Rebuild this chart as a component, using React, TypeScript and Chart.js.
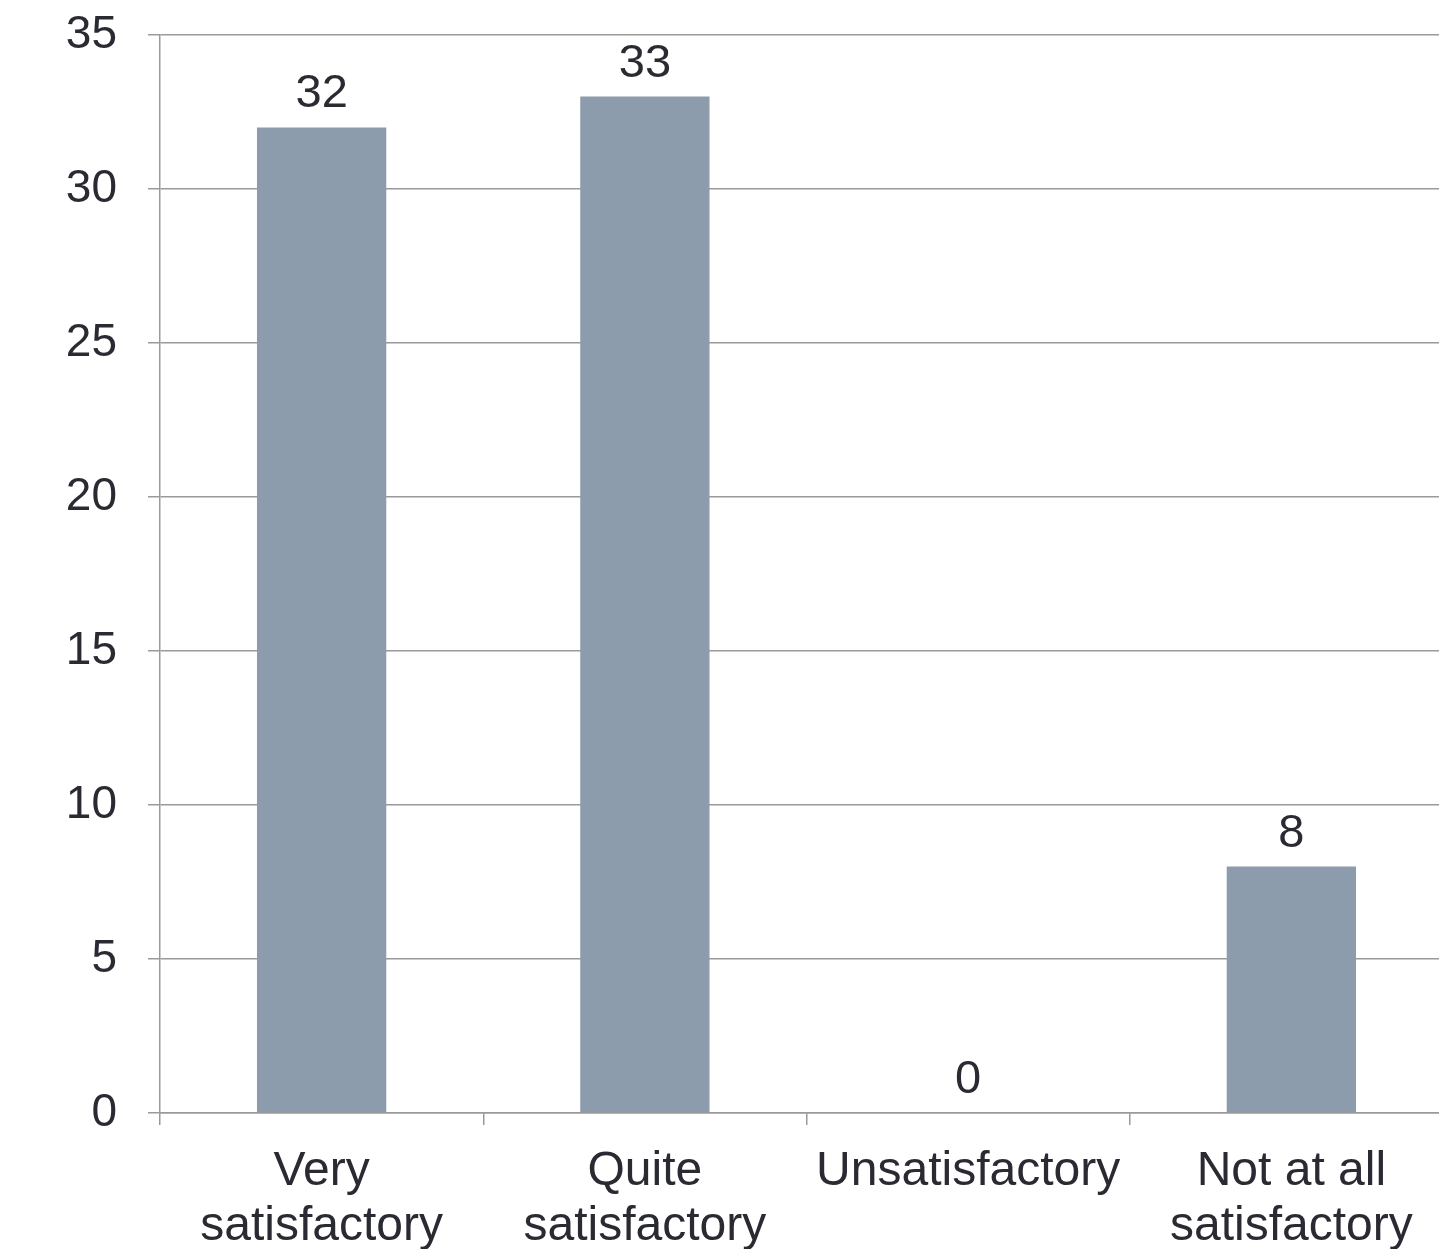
import React, { useEffect, useRef } from "react";
import { Chart, registerables } from "chart.js";

Chart.register(...registerables);

const categories: string[][] = [
  ["Very", "satisfactory"],
  ["Quite", "satisfactory"],
  ["Unsatisfactory"],
  ["Not at all", "satisfactory"],
];
const values: number[] = [32, 33, 0, 8];
const yTicks: number[] = [0, 5, 10, 15, 20, 25, 30, 35];

const FONT = "'Liberation Sans', Arial, sans-serif";
const TEXT = "#2a2a33";
const GRID = "#9a9a9a";
const BAR = "#8d9cac";

const valueLabels = {
  id: "valueLabels",
  afterDatasetsDraw(chart: any) {
    const ctx = chart.ctx;
    const meta = chart.getDatasetMeta(0);
    ctx.save();
    ctx.font = `47px ${FONT}`;
    ctx.fillStyle = TEXT;
    ctx.textAlign = "center";
    ctx.textBaseline = "alphabetic";
    meta.data.forEach((el: any, i: number) => {
      ctx.fillText(String(values[i]), el.x, el.y - 20);
    });
    ctx.restore();
  },
};

export default function App() {
  const ref = useRef<HTMLCanvasElement>(null);
  useEffect(() => {
    document.body.style.margin = "0";
    const chart = new Chart(ref.current!, {
      type: "bar",
      data: {
        labels: categories,
        datasets: [
          {
            data: values,
            backgroundColor: BAR,
            barPercentage: 0.4,
            categoryPercentage: 1,
          },
        ],
      },
      options: {
        responsive: false,
        animation: false,
        devicePixelRatio: 1,
        layout: { padding: { top: 35, right: 7, left: 0, bottom: 0 } },
        plugins: { legend: { display: false }, tooltip: { enabled: false } },
        scales: {
          x: {
            grid: {
              display: true,
              drawOnChartArea: false,
              drawTicks: true,
              tickLength: 12,
              offset: true,
              color: GRID,
              lineWidth: 1.5,
            },
            border: { display: true, color: GRID, width: 1.5 },
            ticks: {
              color: TEXT,
              font: { family: FONT, size: 48, lineHeight: 1.15 },
              padding: 19,
              maxRotation: 0,
              autoSkip: false,
            },
            afterFit(scale: any) {
              scale.height = 136;
              scale.paddingLeft = 0;
              scale.paddingRight = 0;
            },
          },
          y: {
            min: 0,
            max: 35,
            afterBuildTicks(scale: any) {
              scale.ticks = yTicks.map((v) => ({ value: v }));
            },
            grid: {
              color: GRID,
              lineWidth: 1.5,
              tickLength: 12,
              drawTicks: true,
            },
            border: { display: true, color: GRID, width: 1.5 },
            ticks: {
              color: TEXT,
              font: { family: FONT, size: 46 },
              padding: 31,
            },
            afterFit(scale: any) {
              scale.width = 160;
              scale.paddingTop = 0;
              scale.paddingBottom = 0;
            },
          },
        },
      },
      plugins: [valueLabels],
    });
    return () => chart.destroy();
  }, []);
  return (
    <div
      style={{
        position: "fixed",
        left: 0,
        top: 0,
        width: 1439,
        height: 1249,
        overflow: "hidden",
        background: "#fff",
      }}
    >
      <canvas ref={ref} width={1460} height={1249} />
    </div>
  );
}
